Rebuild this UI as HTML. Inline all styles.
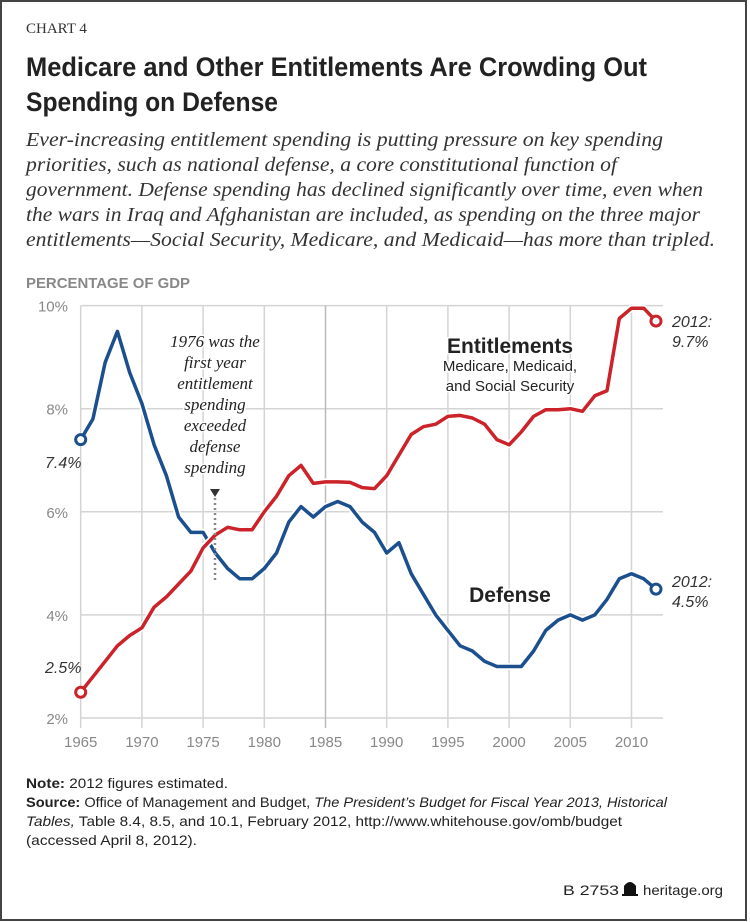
<!DOCTYPE html>
<html><head><meta charset="utf-8"><style>
html,body{margin:0;padding:0;background:#fff;}
svg{display:block;}
</style></head><body>
<svg width="750" height="922" viewBox="0 0 750 922" xmlns="http://www.w3.org/2000/svg">
<rect x="1" y="1" width="745" height="919" fill="#fff" stroke="#444" stroke-width="2"/>
<text x="26" y="33" font-family="Liberation Serif, serif" font-size="15" fill="#333">CHART 4</text>
<g font-family="Liberation Sans, sans-serif" font-weight="bold" font-size="27" fill="#222">
<text x="26" y="76" textLength="621" lengthAdjust="spacingAndGlyphs">Medicare and Other Entitlements Are Crowding Out</text>
<text x="26" y="111" textLength="252" lengthAdjust="spacingAndGlyphs">Spending on Defense</text>
</g>
<g font-family="Liberation Serif, serif" font-style="italic" font-size="20" fill="#333">
<text x="26" y="146" textLength="637" lengthAdjust="spacingAndGlyphs">Ever-increasing entitlement spending is putting pressure on key spending</text>
<text x="26" y="171" textLength="591" lengthAdjust="spacingAndGlyphs">priorities, such as national defense, a core constitutional function of</text>
<text x="26" y="196" textLength="677" lengthAdjust="spacingAndGlyphs">government. Defense spending has declined significantly over time, even when</text>
<text x="26" y="221" textLength="674" lengthAdjust="spacingAndGlyphs">the wars in Iraq and Afghanistan are included, as spending on the three major</text>
<text x="26" y="246" textLength="689" lengthAdjust="spacingAndGlyphs">entitlements—Social Security, Medicare, and Medicaid—has more than tripled.</text>
</g>
<text x="26" y="288" textLength="164" lengthAdjust="spacingAndGlyphs" font-family="Liberation Sans, sans-serif" font-weight="bold" font-size="15" fill="#888">PERCENTAGE OF GDP</text>
<g id="grid"></g>
<g id="axes"></g>
<g id="series"></g>
<g font-family="Liberation Serif, serif" font-style="italic" font-size="17" fill="#222" text-anchor="middle" stroke="#fff" stroke-width="3" paint-order="stroke">
<text x="215" y="347">1976 was the</text>
<text x="215" y="368">first year</text>
<text x="215" y="389">entitlement</text>
<text x="215" y="410">spending</text>
<text x="215" y="431">exceeded</text>
<text x="215" y="452">defense</text>
<text x="215" y="473">spending</text>
</g>
<g font-family="Liberation Sans, sans-serif" text-anchor="middle" fill="#222" stroke="#fff" stroke-width="3" paint-order="stroke">
<text x="510" y="353" font-size="21" font-weight="bold">Entitlements</text>
<text x="510" y="371" font-size="15">Medicare, Medicaid,</text>
<text x="510" y="391" font-size="15">and Social Security</text>
<text x="510" y="602" font-size="21" font-weight="bold">Defense</text>
</g>
<g font-family="Liberation Sans, sans-serif" font-style="italic" font-size="16" fill="#333">
<text x="45" y="468">7.4%</text>
<text x="45" y="673">2.5%</text>
<text x="672" y="327">2012:</text>
<text x="672" y="347">9.7%</text>
<text x="672" y="587">2012:</text>
<text x="672" y="607">4.5%</text>
</g>
<g font-family="Liberation Sans, sans-serif" font-size="14" fill="#222">
<text x="26" y="788" textLength="202" lengthAdjust="spacingAndGlyphs"><tspan font-weight="bold">Note:</tspan> 2012 figures estimated.</text>
<text x="26" y="807" textLength="641" lengthAdjust="spacingAndGlyphs"><tspan font-weight="bold">Source:</tspan> Office of Management and Budget, <tspan font-style="italic">The President’s Budget for Fiscal Year 2013, Historical</tspan></text>
<text x="26" y="826" textLength="596" lengthAdjust="spacingAndGlyphs"><tspan font-style="italic">Tables,</tspan> Table 8.4, 8.5, and 10.1, February 2012, http://www.whitehouse.gov/omb/budget</text>
<text x="26" y="845" textLength="171" lengthAdjust="spacingAndGlyphs">(accessed April 8, 2012).</text>
<text x="563" y="895" textLength="56" lengthAdjust="spacingAndGlyphs">B 2753</text>
<path d="M624 894 L624 886 Q630 878 636 886 L636 894 Z M622 894 H638 V896 H622Z" fill="#111"/>
<text x="643" y="895" textLength="80" lengthAdjust="spacingAndGlyphs">heritage.org</text>
</g>
<g>
<path d="M210 489 L220 489 L215 497 Z" fill="#333"/>
<line x1="215" y1="498" x2="215" y2="582" stroke="#888" stroke-width="2.5" stroke-dasharray="2,3"/>
</g>
</svg>
<script>
const years = [1965,1966,1967,1968,1969,1970,1971,1972,1973,1974,1975,1976,1977,1978,1979,1980,1981,1982,1983,1984,1985,1986,1987,1988,1989,1990,1991,1992,1993,1994,1995,1996,1997,1998,1999,2000,2001,2002,2003,2004,2005,2006,2007,2008,2009,2010,2011,2012];
const defense = [7.4,7.8,8.9,9.5,8.7,8.1,7.3,6.7,5.9,5.6,5.6,5.2,4.9,4.7,4.7,4.9,5.2,5.8,6.1,5.9,6.1,6.2,6.1,5.8,5.6,5.2,5.4,4.8,4.4,4.0,3.7,3.4,3.3,3.1,3.0,3.0,3.0,3.3,3.7,3.9,4.0,3.9,4.0,4.3,4.7,4.8,4.7,4.5];
const entitlements = [2.5,2.8,3.1,3.4,3.6,3.75,4.15,4.35,4.6,4.85,5.3,5.55,5.7,5.65,5.65,6.0,6.3,6.7,6.9,6.55,6.58,6.58,6.57,6.47,6.45,6.7,7.1,7.5,7.65,7.7,7.85,7.87,7.82,7.7,7.4,7.3,7.55,7.85,7.98,7.98,8.0,7.95,8.25,8.35,9.75,9.95,9.95,9.7];
const yTicks = [2,4,6,8,10];
const yTickLabels = ["2%","4%","6%","8%","10%"];
const xTicks = [1965,1970,1975,1980,1985,1990,1995,2000,2005,2010];

const NS = "http://www.w3.org/2000/svg";
const x = yr => 80.7 + (yr - 1965) * 12.24;
const y = v => 718 - (v - 2) * 51.55;
function mk(tag, attrs, parent){const e=document.createElementNS(NS,tag);for(const k in attrs)e.setAttribute(k,attrs[k]);parent.appendChild(e);return e;}
const grid = document.getElementById('grid');
const axes = document.getElementById('axes');
const series = document.getElementById('series');
yTicks.forEach((t,i)=>{
  const l = mk('line',{x1:x(1965),x2:663,y1:y(t),y2:y(t),stroke:'#d4d4d4','stroke-width':1.5},grid);
  
  
  const tx = mk('text',{x:68,y:y(t)+6,'text-anchor':'end','font-family':'Liberation Sans, sans-serif','font-size':15,fill:'#888'},axes);
  tx.textContent = yTickLabels[i];
  
  
});
xTicks.forEach(t=>{
  const l = mk('line',{x1:x(t),x2:x(t),y1:y(10),y2:728,stroke:(t===1985)?'#bbb':'#d4d4d4','stroke-width':1.5},grid);
  
  
  const tx = mk('text',{x:x(t),y:747,'text-anchor':'middle','font-family':'Liberation Sans, sans-serif','font-size':15,fill:'#888'},axes);
  tx.textContent = t;
  
  
});
function drawSeries(vals,color,name){
  const d = vals.map((v,i)=>(i?'L':'M')+x(years[i]).toFixed(1)+' '+y(v).toFixed(1)).join(' ');
  const halo = mk('path',{d:d,fill:'none',stroke:'#fff','stroke-width':7,'stroke-linejoin':'round'},series);
  
  
  const p = mk('path',{d:d,fill:'none',stroke:color,'stroke-width':3.5,'stroke-linejoin':'round'},series);
  
  
  [0,vals.length-1].forEach(i=>{
    const c = mk('circle',{cx:x(years[i]),cy:y(vals[i]),r:5,fill:'#fff',stroke:color,'stroke-width':3},series);
    
    
  });
}
drawSeries(defense,'#1b4f8e','defense');
drawSeries(entitlements,'#cc2229','entitlements');
</script>
</body></html>
